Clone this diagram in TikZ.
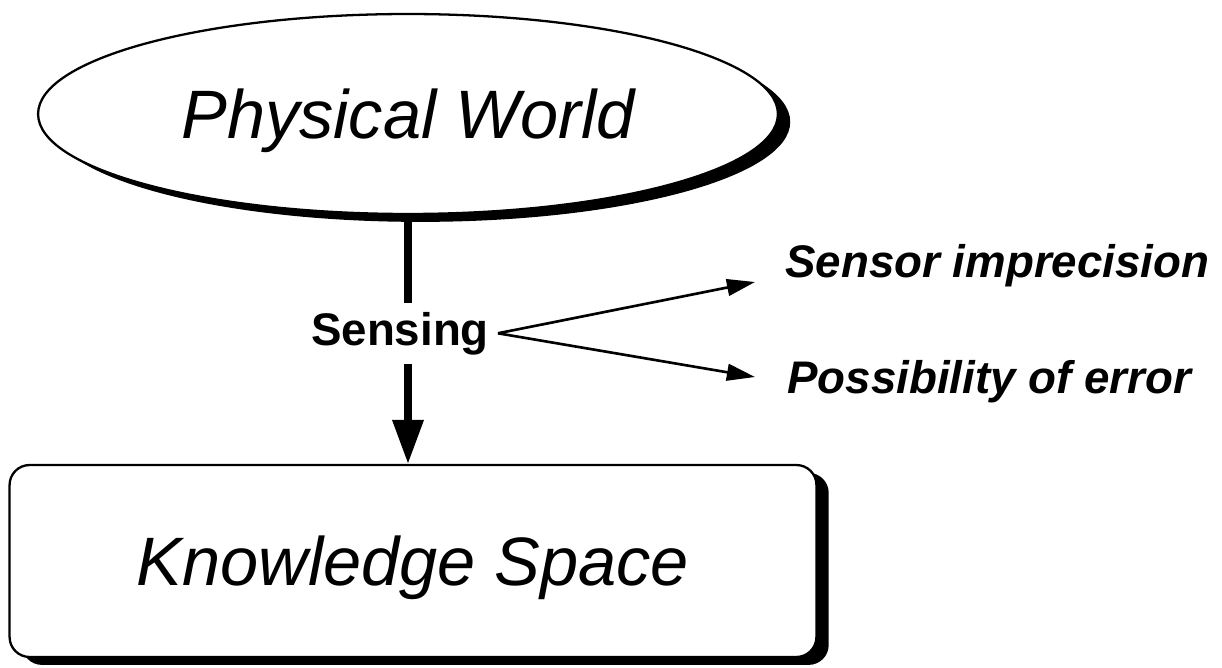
\documentclass[tikz,border=0pt]{standalone}
\usepackage{fontspec}
\setmainfont{Liberation Sans}
\usetikzlibrary{arrows.meta,shapes,shadows}

\begin{document}
\begin{tikzpicture}[x=0.02cm,y=-0.02cm]
\useasboundingbox (0,0) rectangle (1222,668);
\tikzstyle{big}=[draw, fill=white, line width=1.3pt, text depth=0pt, font=\fontsize{39}{41}\selectfont\itshape,
  drop shadow={shadow xshift=7pt, shadow yshift=-4.5pt, fill=black, opacity=1}]
\tikzstyle{small}=[font=\fontsize{26}{29}\selectfont\bfseries]
\tikzstyle{thin arrow}=[line width=1.5pt, -{Triangle[length=16pt,width=9.5pt]}]

\draw (408,114) node[big, ellipse, minimum width=14.8cm, minimum height=4cm] (world) {Physical World};
\draw (413,561) node[big, rounded corners=0.4cm, minimum width=16.14cm, minimum height=3.84cm] (know) {Knowledge Space};

\draw (400,345) node[small, anchor=base, inner sep=5pt] (sens) {Sensing};
\draw (785,278) node[small, anchor=base west, inner sep=0pt] (imp) {\itshape Sensor imprecision};
\draw (787,393) node[small, anchor=base west, inner sep=0pt] (err) {\itshape Possibility of error};

% sensing arrow, broken by its label
\draw[line width=4pt] (world.south) -- (world.south |- sens.north);
\draw[line width=4pt, -{Triangle[length=25pt,width=17pt]}] (world.south |- sens.south) -- (world.south |- know.north);

\draw[thin arrow] (sens.east) -- ([shift={(-30,4)}]imp.base west);
\draw[thin arrow] (sens.east) -- ([shift={(-32,-16)}]err.base west);
\end{tikzpicture}
\end{document}
